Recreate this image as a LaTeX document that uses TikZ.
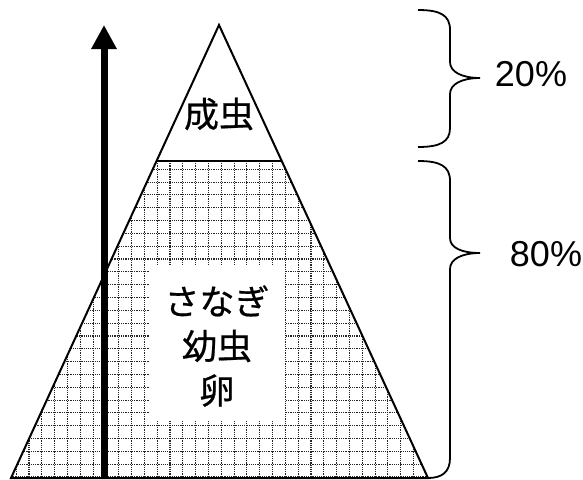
\documentclass[tikz,border=0pt]{standalone}
\usepackage{fontspec}
\setmainfont{Liberation Sans}
\newfontfamily\jp[FakeBold=0.6]{Noto Sans CJK JP}
\usetikzlibrary{arrows.meta}
\tikzset{
  outline/.style={draw=black, line width=2pt, line join=miter},
  gridline/.style={draw=black!85, line width=1.1pt, dash pattern=on 1.1pt off 1.1pt},
  bracestyle/.style={draw=black, line width=1.8pt},
  jplabel/.style={font=\jp\fontsize{35}{44.5}\selectfont, inner sep=0pt, align=center},
  pctlabel/.style={font=\fontsize{36}{40}\selectfont, inner sep=0pt, anchor=base},
  bigarrow/.style={draw=black, line width=7pt, -{Triangle[length=24pt,width=24pt]}}
}
\begin{document}
\begin{tikzpicture}[x=1pt,y=-1pt]
\useasboundingbox (0,0) rectangle (583,479);
% grid fill in lower trapezoid
\begin{scope}
  \clip (157,161) -- (281.7,161) -- (428,478) -- (11,478) -- cycle;
  \foreach \k in {-13,...,20} {
    \draw[gridline] ({170+12.82*\k},150) -- ({170+12.82*\k},480);
  }
  \foreach \k in {0,...,25} {
    \draw[gridline] (0,{169.3+12.82*\k}) -- (440,{169.3+12.82*\k});
  }
\end{scope}
% white panel behind text
\fill[white] (150,265) rectangle (284.5,421);
% texts
\node[jplabel] (adult) at (219,114) {成虫};
\node[jplabel] (young) at (217,346) {さなぎ\\幼虫\\卵};
\node[pctlabel] (p20) at (531,86) {20\%};
\node[pctlabel] (p80) at (546,266.5) {80\%};
% triangle
\coordinate (apex) at (219,25);
\coordinate (bl) at (11,478);
\coordinate (br) at (428,478);
\coordinate (ml) at (157,161);
\coordinate (mr) at (281.7,161);
\draw[outline] (apex) -- (br) -- (bl) -- cycle;
\draw[outline] (ml) -- (mr);
% arrow
\coordinate (abot) at (104,479);
\coordinate (atop) at (104,25);
\draw[bigarrow] (abot) -- (atop);
% braces
\draw[bracestyle] (418,10) .. controls (440,10) and (450,15) .. (450,30)
  -- (450,62) .. controls (450,72) and (462,78) .. (480,78)
  .. controls (462,78) and (450,84) .. (450,94)
  -- (450,128) .. controls (450,142) and (440,147) .. (418,147);
\draw[bracestyle] (418,161) .. controls (440,161) and (450,166) .. (450,181)
  -- (450,238) .. controls (450,248) and (462,253) .. (480,253)
  .. controls (462,253) and (450,259) .. (450,269)
  -- (450,458) .. controls (450,472) and (442,478) .. (428,478);
\end{tikzpicture}
\end{document}
